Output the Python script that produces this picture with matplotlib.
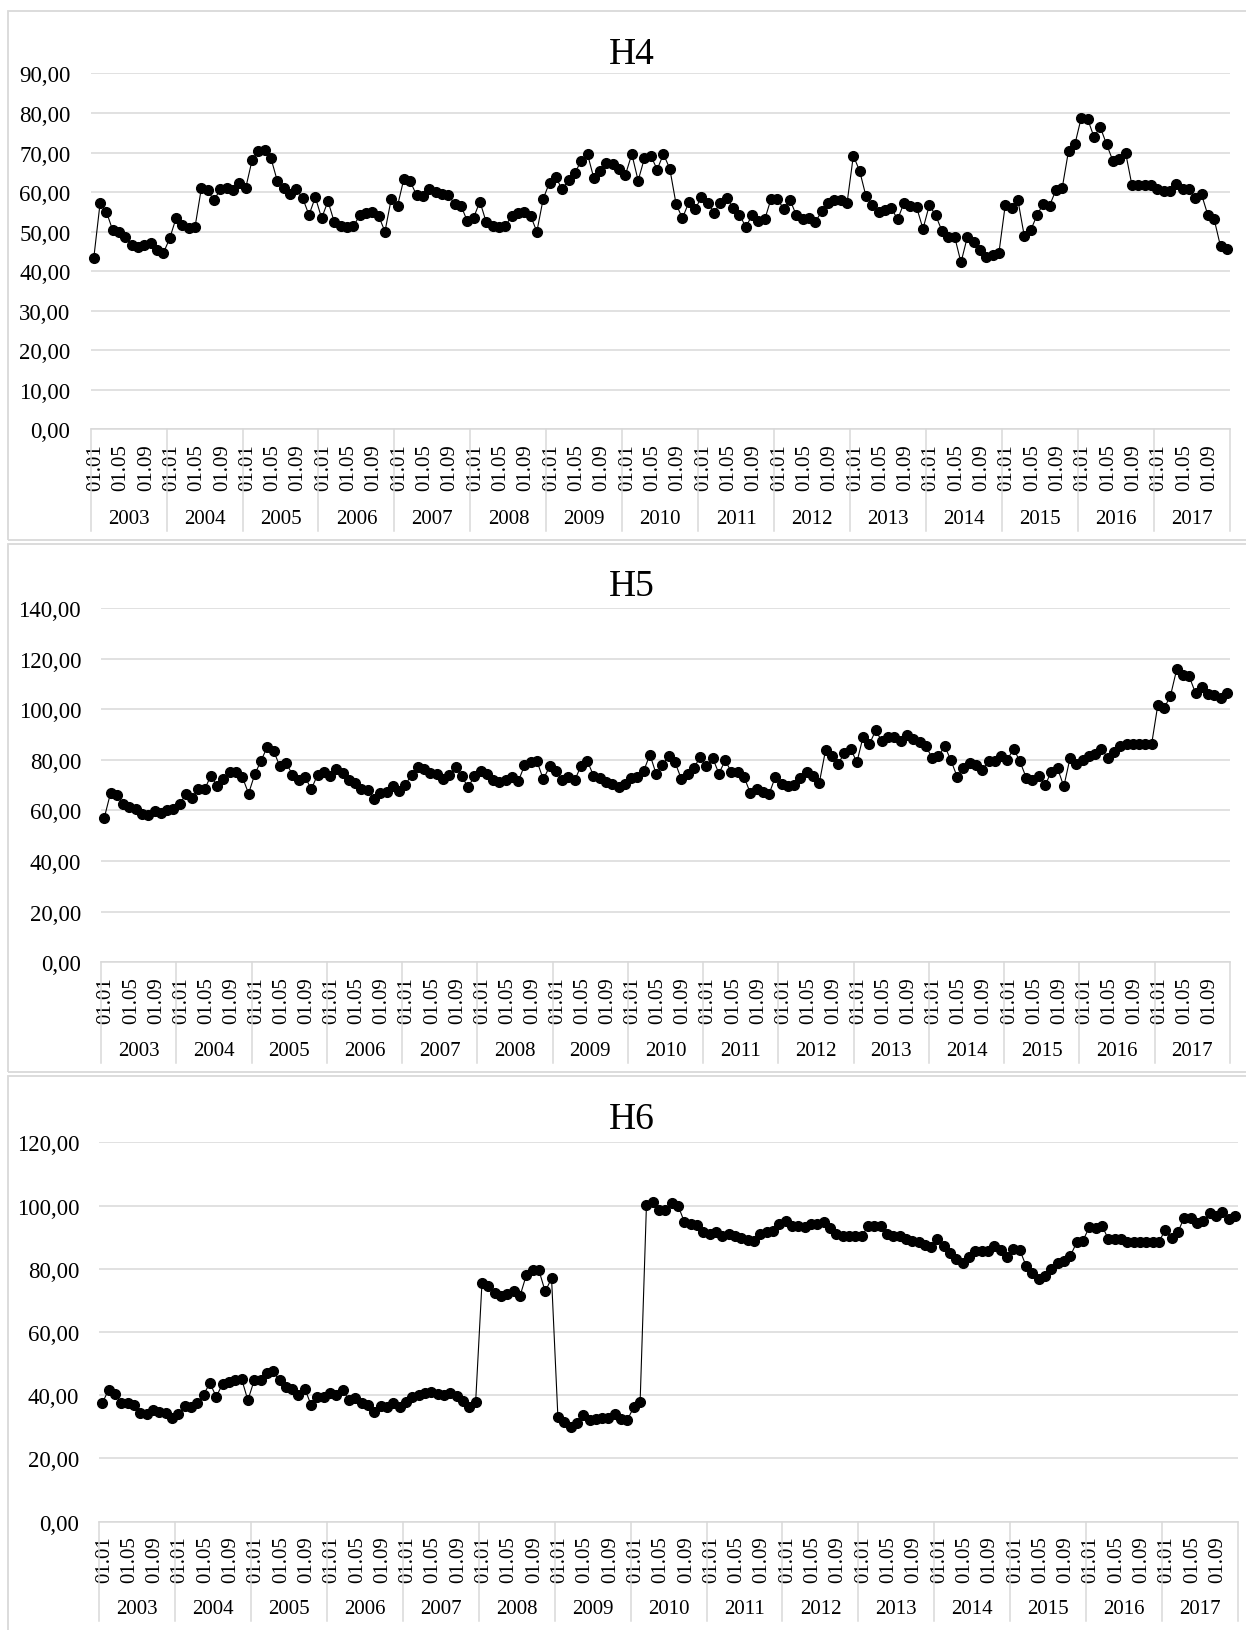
import matplotlib.pyplot as plt
from matplotlib.patches import Rectangle
from matplotlib.lines import Line2D
import numpy as np

plt.rcParams['font.family'] = ['Liberation Serif', 'DejaVu Serif']

years = [str(y) for y in range(2003, 2018)]
month_labels = ['01.01', '01.05', '01.09']

h4 = [43.3, 57.2, 55.0, 50.3, 49.8, 48.7, 46.5, 46.0, 46.5, 47.1, 45.4, 44.6,
      48.3, 53.4, 51.8, 50.9, 51.2, 61.0, 60.4, 57.9, 60.8, 61.1, 60.4, 62.4,
      61.0, 68.0, 70.5, 70.7, 68.5, 62.8, 61.1, 59.5, 60.7, 58.5, 54.2, 58.7,
      53.4, 57.7, 52.4, 51.5, 51.1, 51.3, 54.1, 54.7, 55.0, 54.0, 50.0, 58.3,
      56.6, 63.4, 62.7, 59.2, 59.0, 60.9, 60.1, 59.4, 59.2, 57.1, 56.6, 52.7,
      53.5, 57.6, 52.4, 51.5, 51.2, 51.3, 54.0, 54.7, 55.0, 54.0, 50.0, 58.3,
      62.4, 63.7, 60.7, 63.0, 64.8, 67.9, 69.6, 63.5, 65.3, 67.4, 67.0, 65.9,
      64.4, 69.6, 62.9, 68.6, 69.2, 65.7, 69.6, 65.9, 56.9, 53.4, 57.4, 55.7,
      58.7, 57.2, 54.8, 57.3, 58.5, 56.0, 54.3, 51.2, 54.1, 52.6, 53.1, 58.3,
      58.3, 55.7, 58.0, 54.1, 53.3, 53.4, 52.5, 55.1, 57.3, 57.9, 57.9, 57.2,
      69.2, 65.3, 58.9, 56.7, 55.0, 55.4, 55.9, 53.1, 57.3, 56.4, 56.1, 50.7,
      56.7, 54.1, 50.2, 48.7, 48.7, 42.2, 48.6, 47.3, 45.4, 43.7, 44.2, 44.7,
      56.8, 56.0, 57.9, 48.9, 50.3, 54.1, 57.1, 56.6, 60.5, 61.1, 70.5, 72.1,
      78.8, 78.5, 74.0, 76.4, 72.1, 67.9, 68.3, 70.0, 61.8, 61.8, 61.8, 61.8,
      60.9, 60.3, 60.3, 62.0, 60.7, 60.7, 58.5, 59.4, 54.2, 53.1, 46.3, 45.5]

h5 = [57.2, 67.0, 66.2, 62.4, 61.3, 60.7, 58.6, 58.3, 59.9, 59.0, 60.3, 60.7,
      62.4, 66.5, 65.1, 68.5, 68.4, 73.8, 69.5, 72.4, 75.3, 75.4, 73.3, 66.7,
      74.4, 79.7, 85.3, 83.5, 77.4, 78.7, 74.2, 71.9, 73.3, 68.4, 74.1, 75.3,
      73.8, 76.3, 74.9, 71.9, 70.8, 68.6, 68.1, 64.6, 67.0, 67.5, 69.5, 67.8,
      70.1, 74.2, 77.1, 76.4, 74.9, 74.4, 72.4, 74.2, 77.1, 73.5, 69.2, 73.5,
      75.7, 74.4, 72.2, 71.1, 71.9, 73.3, 71.5, 77.8, 79.3, 79.4, 72.3, 77.4,
      75.6, 72.2, 73.3, 71.9, 77.6, 79.7, 73.8, 72.9, 71.4, 70.5, 69.2, 70.5,
      73.0, 73.3, 75.6, 82.1, 74.4, 77.9, 81.7, 79.1, 72.5, 74.6, 76.7, 81.2,
      77.4, 80.8, 74.6, 79.8, 75.2, 75.4, 73.3, 67.0, 68.5, 67.5, 66.5, 73.3,
      70.5, 69.7, 69.9, 73.0, 75.2, 73.8, 70.8, 83.8, 81.4, 78.3, 82.8, 84.4,
      79.1, 89.2, 86.2, 91.7, 87.3, 88.9, 88.9, 87.3, 89.9, 88.2, 86.9, 85.5,
      80.8, 81.4, 85.5, 79.8, 73.3, 76.7, 78.7, 78.0, 76.0, 79.7, 79.7, 81.7,
      80.1, 84.4, 79.4, 73.0, 72.2, 73.8, 69.9, 75.3, 76.7, 69.5, 80.8, 78.3,
      79.8, 81.4, 82.5, 84.4, 80.8, 83.1, 85.5, 86.2, 86.2, 86.2, 86.2, 86.2,
      101.9, 100.5, 105.3, 115.8, 113.4, 113.0, 106.4, 108.7, 106.2, 105.7, 104.3, 106.6]

h6 = [37.6, 41.7, 40.4, 37.6, 37.6, 36.8, 34.5, 33.9, 35.2, 34.8, 34.5, 32.8,
      33.9, 36.5, 36.1, 37.6, 40.2, 43.8, 39.5, 43.6, 44.2, 44.9, 45.2, 38.4,
      44.7, 44.9, 47.0, 47.5, 44.7, 42.5, 41.9, 40.0, 42.1, 36.8, 39.5, 39.5,
      40.6, 39.9, 41.5, 38.5, 39.1, 37.4, 36.8, 34.8, 36.5, 36.2, 37.4, 36.2,
      37.7, 39.3, 40.0, 40.8, 41.0, 40.4, 40.0, 40.6, 39.6, 38.2, 36.2, 37.8,
      75.5, 74.6, 72.3, 71.5, 72.1, 73.0, 71.3, 77.9, 79.6, 79.5, 72.8, 77.0,
      33.2, 31.4, 30.0, 31.1, 33.6, 32.3, 32.5, 32.7, 32.9, 33.9, 32.5, 32.3,
      36.2, 37.9, 100.2, 101.1, 98.5, 98.7, 100.7, 99.9, 94.8, 94.3, 93.7, 91.7,
      91.1, 91.6, 90.2, 91.1, 90.2, 89.6, 89.1, 88.9, 90.9, 91.7, 92.0, 94.3,
      95.2, 93.4, 93.6, 93.2, 94.3, 94.3, 94.8, 92.8, 90.9, 90.2, 90.2, 90.2,
      90.2, 93.4, 93.4, 93.4, 90.9, 90.5, 90.5, 89.4, 88.9, 88.3, 87.5, 86.8,
      89.4, 87.2, 85.0, 83.2, 81.7, 83.8, 85.5, 85.7, 85.5, 87.1, 86.0, 83.7,
      86.3, 86.0, 80.9, 78.5, 76.6, 77.8, 79.8, 81.9, 82.5, 84.1, 88.3, 88.9,
      93.2, 92.8, 93.6, 89.4, 89.4, 89.4, 88.5, 88.5, 88.5, 88.5, 88.5, 88.5,
      92.3, 89.8, 91.6, 96.2, 95.9, 94.5, 95.1, 97.7, 96.8, 97.9, 95.7, 96.8]

W, H = 1246, 1631
fig = plt.figure(figsize=(W / 100, H / 100), dpi=100)
grey = '#d9d9d9'


def fx(px):
    return px / W


def fy(py):
    return 1 - py / H


# title, data, ymax, step, plot box (left, right, top, bottom), panel box (top, bottom),
# title y, separator end y, year label y
panels = [
    ('H4', h4, 90, 10, (90.6, 1230, 74.4, 430.4), (12.4, 541), 54.5, 531.7, 519.3),
    ('H5', h5, 140, 20, (101.2, 1230, 609.2, 963.2), (545, 1073), 586.8, 1064, 1051.7),
    ('H6', h6, 120, 20, (99.2, 1238, 1143.3, 1522.6), (1076.5, 1645), 1120, 1621.7, 1610),
]

n = len(h4)
x = np.arange(n) + 0.5
tick_pos = [k * 12 + m + 0.8 for k in range(len(years)) for m in (0, 4, 8)]
tick_lab = month_labels * len(years)

for title, data, ymax, step, (l, r, t, b), (bt, bb), ty, sep_end, yl in panels:
    fig.add_artist(Rectangle((fx(8), fy(bb)), fx(W + 20 - 8), (bb - bt) / H,
                             transform=fig.transFigure, fill=False, ec=grey, lw=1.3))
    ax = fig.add_axes([fx(l), fy(b), fx(r - l), (b - t) / H])
    ax.plot(x, data, color='black', lw=0.8, marker='o', ms=7, zorder=3, clip_on=False)
    ax.set_xlim(0, n)
    ax.set_ylim(0, ymax)
    yt = np.arange(0, ymax + 1, step)
    ax.set_yticks(yt)
    ax.set_yticklabels([f'{v:.2f}'.replace('.', ',') for v in yt])
    ax.grid(axis='y', color=grey, lw=1.1)
    ax.set_axisbelow(True)
    for s in ['top', 'right', 'left']:
        ax.spines[s].set_visible(False)
    ax.spines['bottom'].set_color(grey)
    ax.spines['bottom'].set_linewidth(1.1)
    ax.tick_params(axis='y', length=0, pad=14.5, labelsize=16.5)
    ax.set_xticks(tick_pos)
    ax.set_xticklabels(tick_lab, rotation=90)
    ax.tick_params(axis='x', length=0, pad=10, labelsize=15)

    for k in range(len(years) + 1):
        xp = fx(l + (r - l) * k * 12 / n)
        fig.add_artist(Line2D([xp, xp], [fy(b), fy(sep_end)], transform=fig.transFigure,
                              color=grey, lw=1.1))
    for k, yr in enumerate(years):
        xc = fx(l + (r - l) * (k * 12 + 6) / n)
        fig.text(xc, fy(yl), yr, ha='center', va='center', fontsize=15)

    fig.text(fx(632), fy(ty), title, ha='center', va='center', fontsize=27)

fig.savefig('out.png', dpi=100, facecolor='white')
